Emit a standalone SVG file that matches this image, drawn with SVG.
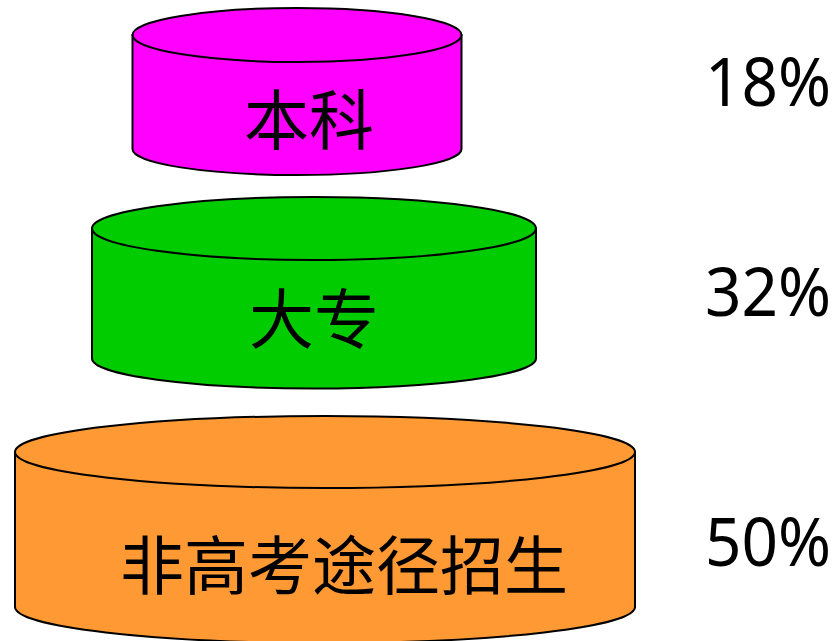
<svg xmlns="http://www.w3.org/2000/svg" width="839" height="641" viewBox="0 0 839 641">
<style>
.cyl{stroke:#000;stroke-width:2}
.lbl{font-family:"Noto Sans CJK SC","Noto Sans",sans-serif;fill:#000;text-anchor:middle}
.pct{font-family:"Noto Sans","Open Sans",sans-serif;font-size:68px;fill:#000}
</style>
<rect width="839" height="641" fill="#fff"/>
<g id="benke">
<path class="cyl" fill="#FF00FF" d="M132.5,35 L132.5,149 A164.5,26 0 0 0 461.5,149 L461.5,35 Z"/>
<ellipse class="cyl" fill="#FF00FF" cx="297" cy="35" rx="164.5" ry="27"/>
<text class="lbl" x="309" y="144" font-size="65">本科</text>
</g>
<g id="dazhuan">
<path class="cyl" fill="#00CC00" d="M92,228.5 L92,358.5 A222,30 0 0 0 536,358.5 L536,228.5 Z"/>
<ellipse class="cyl" fill="#00CC00" cx="314" cy="228.5" rx="222" ry="31.5"/>
<text class="lbl" x="314" y="343" font-size="65">大专</text>
</g>
<g id="feigaokao">
<path class="cyl" fill="#FF9933" d="M15,452 L15,607 A310,36 0 0 0 635,607 L635,452 Z"/>
<ellipse class="cyl" fill="#FF9933" cx="325" cy="452" rx="310" ry="36"/>
<text class="lbl" x="344" y="589" font-size="64">非高考途径招生</text>
</g>
<g id="percents">
<text class="pct" x="705" y="106" textLength="126" lengthAdjust="spacingAndGlyphs">18%</text>
<text class="pct" x="705" y="315.5" textLength="126" lengthAdjust="spacingAndGlyphs">32%</text>
<text class="pct" x="705" y="565.5" textLength="126" lengthAdjust="spacingAndGlyphs">50%</text>
</g>
<g id="connectors"/>
</svg>
